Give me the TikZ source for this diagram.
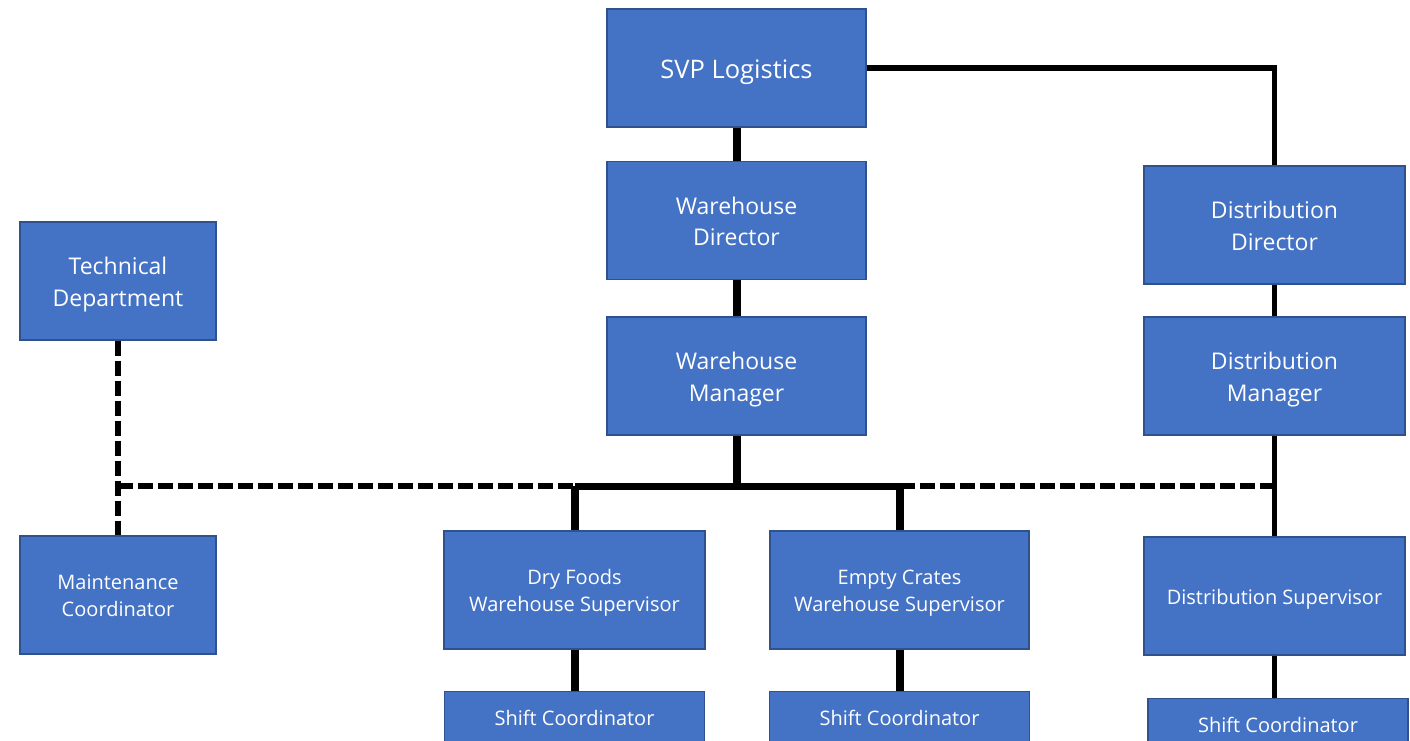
\documentclass[tikz,border=0pt]{standalone}
\usepackage{fontspec}
\setmainfont{Open Sans}
\begin{document}
\begin{tikzpicture}[x=1pt,y=-1pt,
  box/.style={draw=boxedge, line width=1.2pt, fill=boxfill, text=white,
    align=center, inner sep=0pt, text depth=0pt},
  wide/.style={box, minimum width=261, minimum height=118},
  narrow/.style={box, minimum width=196, minimum height=118},
  shiftbox/.style={box, fCone, minimum width=260, minimum height=52, anchor=north},
  % font sizes; text height keeps the lettering optically centred
  fA/.style={font=\fontsize{25.5}{30}\selectfont, text height=21.4pt},
  fB/.style={font=\fontsize{23}{31.5}\selectfont, text height=50.1pt},
  fC/.style={font=\fontsize{20}{27}\selectfont, text height=43.4pt},
  fCone/.style={font=\fontsize{20}{27}\selectfont, text height=16.4pt},
  heavy/.style={line width=8pt},
  bar/.style={line width=7pt},
  slim/.style={line width=5.5pt},
  dotted link/.style={line width=5.5pt, dash pattern=on 15pt off 5pt}
]
\definecolor{boxfill}{HTML}{4472C4}
\definecolor{boxedge}{HTML}{2F528F}
\clip (0,0) rectangle (1410,741);
\fill[white] (0,0) rectangle (1410,741);

% boxes
\node[wide, fA, minimum width=259] (svp) at (736.5,68) {SVP Logistics};
\node[wide, fB, minimum width=259] (wd) at (736.5,220.5) {Warehouse\\Director};
\node[wide, fB, minimum width=259] (wm) at (736.5,376) {Warehouse\\Manager};
\node[wide, fB] (dd) at (1274.5,225) {Distribution\\Director};
\node[wide, fB] (dm) at (1274.5,376) {Distribution\\Manager};
\node[narrow, fB] (tech) at (118,281) {Technical\\Department};
\node[narrow, fC] (maint) at (118,595) {Maintenance\\Coordinator};
\node[wide, fC] (dry) at (574.5,590) {Dry Foods\\Warehouse Supervisor};
\node[wide, fC, minimum width=259] (empty) at (899.5,590) {Empty Crates\\Warehouse Supervisor};
\node[wide, fCone] (ds) at (1274.5,596) {Distribution Supervisor};
\node[shiftbox] (s1) at (574.5,691) {Shift Coordinator};
\node[shiftbox] (s2) at (899.5,691) {Shift Coordinator};
\node[shiftbox] (s3) at (1278,698) {Shift Coordinator};

% the shared reporting line under the Warehouse Manager
\coordinate (bus) at (0,486);
\coordinate (jt) at (tech.south |- bus);
\coordinate (jl) at (dry.north |- bus);
\coordinate (jw) at (wm.south |- bus);
\coordinate (jr) at (empty.north |- bus);
\coordinate (jd) at (dm.south |- bus);

% solid reporting lines
\draw[heavy] (svp) -- (wd);
\draw[heavy] (wd) -- (wm);
\draw[slim] (svp.east) -| (dd.north);
\draw[slim] (dd) -- (dm);
\draw[slim] (dm) -- (ds);
\draw[heavy] (wm.south) -- (jw);
\draw[bar] (jl) -- (jr);
\draw[heavy] (jl) -- (dry.north);
\draw[heavy] (jr) -- (empty.north);
\draw[heavy] (dry) -- (s1);
\draw[heavy] (empty) -- (s2);
\draw[slim] (ds.south) -- (ds.south |- s3.north);

% dotted-line reporting
\draw[dotted link] (tech) -- (maint);
\draw[dotted link] (jt) -- (jl);
\draw[dotted link] (jr) -- (jd);
\end{tikzpicture}
\end{document}
